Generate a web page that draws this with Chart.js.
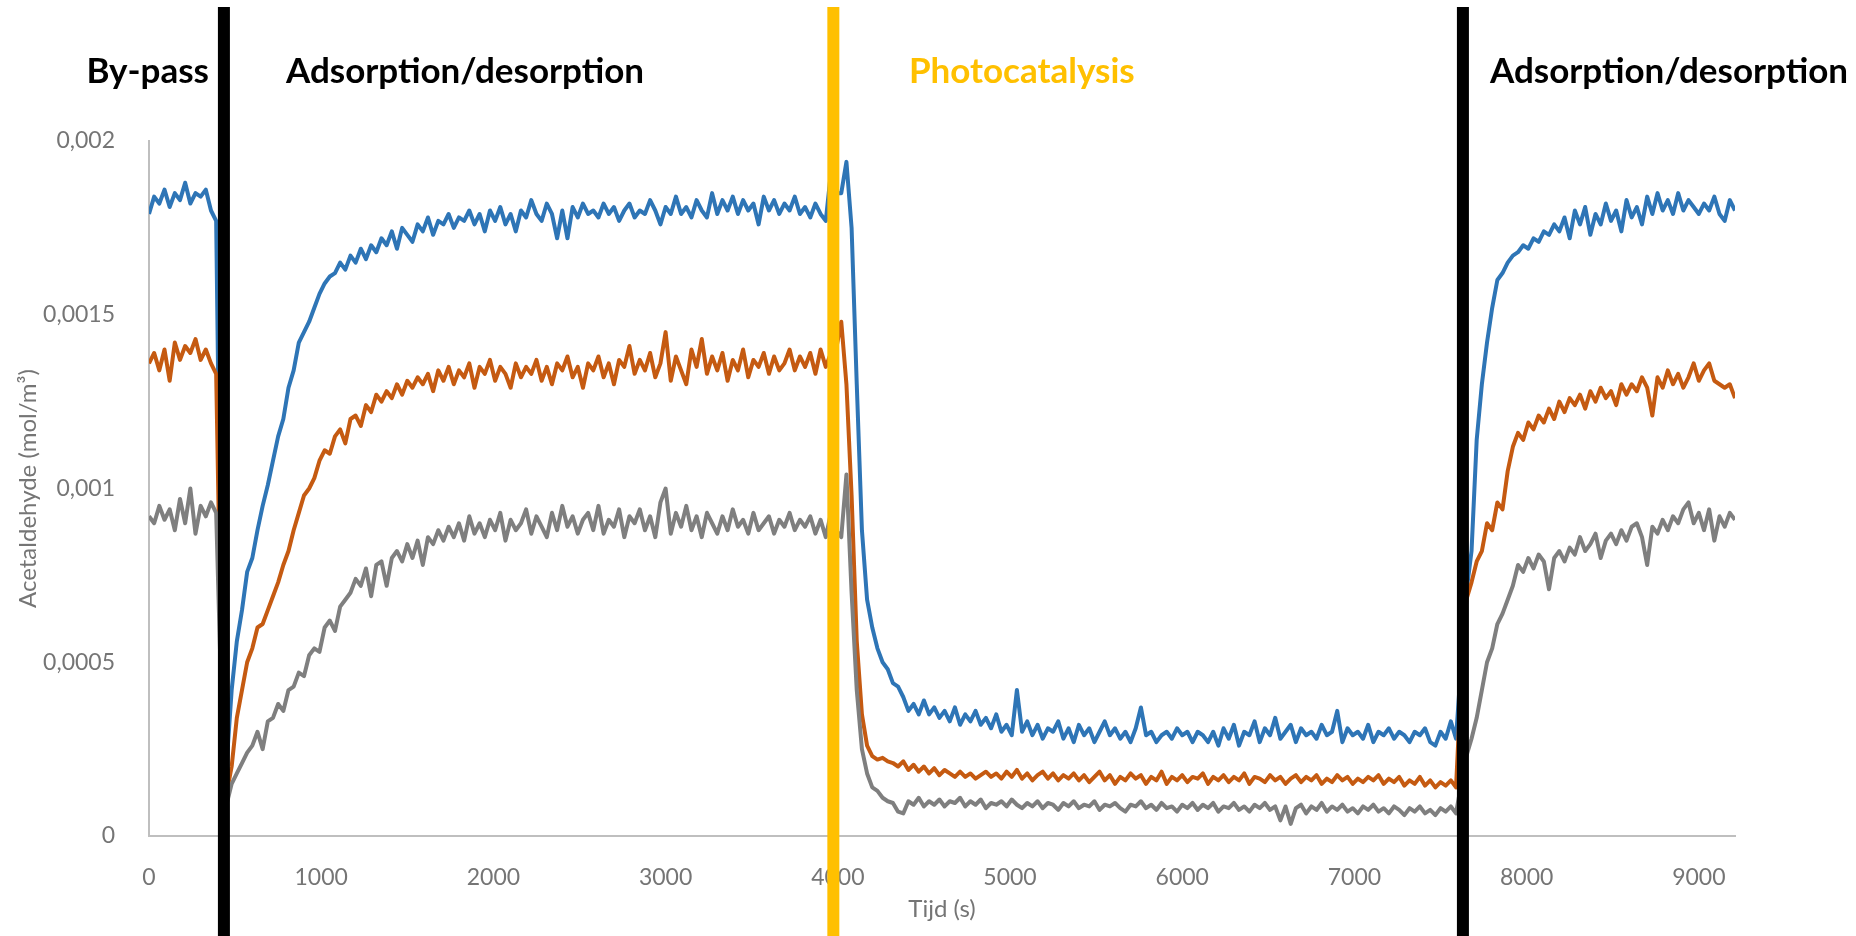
<!DOCTYPE html>
<html>
<head>
<meta charset="utf-8">
<title>Acetaldehyde</title>
<script src="https://cdn.jsdelivr.net/npm/chart.js@4.4.1/dist/chart.umd.min.js"></script>
<style>
  html, body { margin: 0; padding: 0; background: #fff; }
  canvas { display: block; }
</style>
</head>
<body>
<canvas id="grafiek" width="1856" height="936"></canvas>
<script>
// tijd in s, waarden in µmol/m³ (wordt bij het tekenen omgezet naar mol/m³)
const tijd = [
  0, 30, 60, 90, 120, 150, 180, 210, 240, 270,
  300, 330, 360, 390, 420, 450, 480, 510, 540, 570,
  600, 630, 660, 690, 720, 750, 780, 810, 840, 870,
  900, 930, 960, 990, 1020, 1050, 1080, 1110, 1140, 1170,
  1200, 1230, 1260, 1290, 1320, 1350, 1380, 1410, 1440, 1470,
  1500, 1530, 1560, 1590, 1620, 1650, 1680, 1710, 1740, 1770,
  1800, 1830, 1860, 1890, 1920, 1950, 1980, 2010, 2040, 2070,
  2100, 2130, 2160, 2190, 2220, 2250, 2280, 2310, 2340, 2370,
  2400, 2430, 2460, 2490, 2520, 2550, 2580, 2610, 2640, 2670,
  2700, 2730, 2760, 2790, 2820, 2850, 2880, 2910, 2940, 2970,
  3000, 3030, 3060, 3090, 3120, 3150, 3180, 3210, 3240, 3270,
  3300, 3330, 3360, 3390, 3420, 3450, 3480, 3510, 3540, 3570,
  3600, 3630, 3660, 3690, 3720, 3750, 3780, 3810, 3840, 3870,
  3900, 3930, 3960, 3990, 4020, 4050, 4080, 4110, 4140, 4170,
  4200, 4230, 4260, 4290, 4320, 4350, 4380, 4410, 4440, 4470,
  4500, 4530, 4560, 4590, 4620, 4650, 4680, 4710, 4740, 4770,
  4800, 4830, 4860, 4890, 4920, 4950, 4980, 5010, 5040, 5070,
  5100, 5130, 5160, 5190, 5220, 5250, 5280, 5310, 5340, 5370,
  5400, 5430, 5460, 5490, 5520, 5550, 5580, 5610, 5640, 5670,
  5700, 5730, 5760, 5790, 5820, 5850, 5880, 5910, 5940, 5970,
  6000, 6030, 6060, 6090, 6120, 6150, 6180, 6210, 6240, 6270,
  6300, 6330, 6360, 6390, 6420, 6450, 6480, 6510, 6540, 6570,
  6600, 6630, 6660, 6690, 6720, 6750, 6780, 6810, 6840, 6870,
  6900, 6930, 6960, 6990, 7020, 7050, 7080, 7110, 7140, 7170,
  7200, 7230, 7260, 7290, 7320, 7350, 7380, 7410, 7440, 7470,
  7500, 7530, 7560, 7590, 7620, 7650, 7680, 7710, 7740, 7770,
  7800, 7830, 7860, 7890, 7920, 7950, 7980, 8010, 8040, 8070,
  8100, 8130, 8160, 8190, 8220, 8250, 8280, 8310, 8340, 8370,
  8400, 8430, 8460, 8490, 8520, 8550, 8580, 8610, 8640, 8670,
  8700, 8730, 8760, 8790, 8820, 8850, 8880, 8910, 8940, 8970,
  9000, 9030, 9060, 9090, 9120, 9150, 9180, 9210
];

const blauw = [
  1790, 1840, 1820, 1860, 1810, 1850, 1830, 1880, 1820, 1850,
  1840, 1860, 1800, 1770, 600, 200, 420, 560, 650, 760,
  800, 880, 950, 1010, 1080, 1150, 1200, 1290, 1340, 1420,
  1450, 1480, 1520, 1560, 1590, 1610, 1620, 1650, 1630, 1670,
  1650, 1690, 1660, 1700, 1680, 1720, 1700, 1740, 1690, 1750,
  1730, 1710, 1760, 1740, 1780, 1730, 1770, 1760, 1790, 1750,
  1780, 1770, 1800, 1760, 1790, 1740, 1800, 1770, 1810, 1760,
  1790, 1740, 1800, 1780, 1830, 1790, 1770, 1820, 1790, 1720,
  1800, 1720, 1810, 1780, 1820, 1790, 1800, 1780, 1820, 1790,
  1810, 1770, 1800, 1820, 1780, 1800, 1790, 1830, 1800, 1760,
  1810, 1790, 1840, 1790, 1810, 1780, 1830, 1800, 1780, 1850,
  1790, 1830, 1800, 1840, 1790, 1830, 1800, 1820, 1760, 1840,
  1800, 1830, 1790, 1820, 1800, 1840, 1790, 1810, 1780, 1820,
  1790, 1770, 1910, 1850, 1850, 1940, 1750, 1300, 880, 680,
  600, 540, 500, 480, 440, 430, 400, 360, 380, 350,
  390, 350, 370, 340, 360, 330, 370, 320, 350, 330,
  360, 320, 340, 310, 350, 300, 320, 290, 420, 300,
  330, 290, 320, 280, 310, 300, 330, 280, 310, 270,
  320, 290, 310, 270, 300, 330, 290, 310, 280, 300,
  270, 310, 370, 290, 300, 270, 290, 300, 280, 310,
  290, 300, 270, 300, 290, 270, 300, 260, 310, 280,
  320, 260, 300, 290, 330, 270, 310, 290, 340, 280,
  300, 320, 270, 310, 290, 300, 280, 320, 290, 300,
  360, 270, 310, 290, 300, 280, 320, 270, 300, 290,
  310, 280, 300, 290, 270, 300, 290, 310, 270, 260,
  300, 280, 330, 280, 500, 700, 820, 1140, 1300, 1420,
  1520, 1600, 1620, 1650, 1670, 1680, 1700, 1690, 1720, 1710,
  1740, 1730, 1760, 1740, 1780, 1720, 1800, 1760, 1810, 1730,
  1790, 1760, 1820, 1770, 1800, 1740, 1830, 1780, 1810, 1760,
  1840, 1790, 1850, 1800, 1830, 1790, 1850, 1800, 1830, 1810,
  1790, 1820, 1800, 1840, 1790, 1770, 1830, 1800
];

const oranje = [
  1360, 1390, 1340, 1400, 1310, 1420, 1370, 1410, 1390, 1430,
  1370, 1400, 1360, 1330, 500, 120, 200, 340, 420, 500,
  540, 600, 610, 650, 690, 730, 780, 820, 880, 930,
  980, 1000, 1030, 1080, 1110, 1100, 1150, 1170, 1130, 1200,
  1210, 1180, 1240, 1220, 1270, 1250, 1280, 1260, 1300, 1270,
  1310, 1290, 1320, 1300, 1330, 1280, 1340, 1310, 1350, 1300,
  1340, 1320, 1360, 1290, 1350, 1330, 1370, 1310, 1350, 1330,
  1290, 1360, 1320, 1350, 1330, 1370, 1310, 1350, 1300, 1360,
  1340, 1380, 1320, 1350, 1290, 1360, 1340, 1380, 1320, 1360,
  1300, 1370, 1350, 1410, 1330, 1370, 1340, 1390, 1320, 1360,
  1450, 1310, 1380, 1340, 1300, 1400, 1350, 1430, 1330, 1380,
  1340, 1390, 1310, 1370, 1340, 1400, 1320, 1370, 1350, 1390,
  1330, 1380, 1340, 1360, 1400, 1340, 1380, 1350, 1390, 1330,
  1400, 1350, 1390, 1400, 1480, 1300, 980, 560, 350, 260,
  230, 220, 225, 215, 210, 200, 215, 190, 205, 185,
  200, 180, 195, 175, 190, 180, 170, 185, 170, 180,
  165, 175, 185, 170, 180, 165, 185, 170, 190, 165,
  180, 160, 175, 185, 165, 180, 160, 175, 165, 180,
  160, 175, 155, 170, 185, 160, 175, 150, 170, 160,
  180, 165, 175, 150, 170, 160, 185, 150, 170, 160,
  175, 155, 170, 165, 180, 150, 170, 160, 175, 155,
  170, 160, 180, 150, 170, 165, 155, 175, 160, 170,
  150, 165, 175, 155, 170, 160, 175, 150, 165, 155,
  175, 160, 170, 150, 165, 155, 170, 160, 175, 150,
  165, 155, 170, 145, 160, 150, 170, 145, 160, 140,
  155, 145, 160, 140, 450, 680, 730, 790, 820, 900,
  880, 960, 940, 1050, 1120, 1160, 1140, 1190, 1170, 1210,
  1190, 1230, 1200, 1250, 1220, 1260, 1240, 1270, 1230, 1280,
  1250, 1290, 1260, 1280, 1240, 1300, 1270, 1300, 1280, 1320,
  1290, 1210, 1320, 1290, 1340, 1300, 1330, 1290, 1320, 1360,
  1310, 1340, 1360, 1310, 1300, 1290, 1300, 1260
];

const grijs = [
  920, 900, 950, 910, 940, 880, 970, 900, 1000, 870,
  950, 920, 960, 930, 400, 90, 150, 180, 210, 240,
  260, 300, 250, 330, 340, 380, 360, 420, 430, 470,
  460, 520, 540, 530, 600, 620, 590, 660, 680, 700,
  740, 720, 770, 690, 780, 790, 720, 800, 820, 790,
  840, 800, 850, 780, 860, 840, 880, 850, 890, 860,
  900, 850, 920, 870, 900, 860, 910, 880, 930, 850,
  910, 880, 900, 940, 870, 920, 890, 860, 930, 880,
  950, 890, 920, 870, 910, 930, 880, 950, 870, 910,
  890, 940, 860, 920, 900, 940, 880, 920, 860, 960,
  1000, 870, 930, 890, 950, 880, 920, 860, 930, 900,
  870, 920, 880, 940, 890, 910, 870, 930, 880, 900,
  920, 870, 910, 890, 930, 880, 910, 890, 920, 870,
  910, 860, 930, 880, 860, 1040, 700, 420, 250, 180,
  140, 130, 110, 100, 95, 70, 65, 100, 90, 110,
  85, 100, 90, 105, 85, 100, 95, 110, 85, 100,
  90, 105, 80, 95, 90, 100, 85, 105, 90, 80,
  95, 85, 100, 80, 95, 90, 75, 95, 85, 100,
  80, 90, 85, 100, 75, 90, 85, 95, 80, 70,
  90, 85, 100, 80, 90, 75, 95, 80, 85, 70,
  90, 80, 95, 75, 90, 80, 95, 70, 85, 80,
  95, 75, 85, 70, 90, 80, 95, 75, 85, 45,
  85, 35, 80, 90, 65, 85, 75, 95, 70, 85,
  75, 90, 70, 80, 65, 85, 75, 90, 70, 80,
  65, 85, 75, 60, 80, 70, 85, 65, 75, 60,
  80, 70, 85, 65, 150, 230, 280, 340, 420, 500,
  540, 610, 640, 680, 720, 780, 760, 800, 770, 810,
  790, 710, 800, 820, 790, 830, 810, 860, 820, 840,
  870, 800, 850, 870, 840, 880, 850, 890, 900, 860,
  780, 890, 870, 910, 880, 920, 900, 940, 960, 900,
  930, 880, 940, 850, 920, 890, 930, 910
];

// y-as in mol/m³
const yTicks = [0, 0.0005, 0.001, 0.0015, 0.002];
const xTicks = [0, 1000, 2000, 3000, 4000, 5000, 6000, 7000, 8000, 9000];

// fasegrenzen (s) en fasenamen
const faseGrenzen = [435, 3974, 7630];
const faseNamen = ["By-pass", "Adsorption/desorption", "Photocatalysis", "Adsorption/desorption"];

if (blauw.length !== tijd.length || oranje.length !== tijd.length || grijs.length !== tijd.length) {
  console.error("lengtes kloppen niet", tijd.length, blauw.length, oranje.length, grijs.length);
}

function punten(reeks) {
  return tijd.map((t, i) => ({ x: t, y: reeks[i] / 1e6 }));
}

const grensKleuren = ["#000000", "#FFC000", "#000000"];
const naamKleuren = ["#000000", "#000000", "#FFC000", "#000000"];
// By-pass rechts uitgelijnd tegen de eerste lijn, de rest links uitgelijnd
const naamX = [209, 286, 909, 1490];
const naamUitlijning = ["right", "left", "left", "left"];

const faseLijnen = {
  id: "faseLijnen",
  afterDatasetsDraw(chart) {
    const { ctx, scales: { x } } = chart;
    ctx.save();
    faseGrenzen.forEach((t, i) => {
      const px = x.getPixelForValue(t);
      ctx.fillStyle = grensKleuren[i];
      ctx.fillRect(px - 6, 7, 12, chart.height - 7);
    });
    ctx.font = "bold 35px Lato";
    ctx.textBaseline = "alphabetic";
    faseNamen.forEach((naam, i) => {
      ctx.fillStyle = naamKleuren[i];
      ctx.textAlign = naamUitlijning[i];
      ctx.fillText(naam, naamX[i], 83);
    });
    ctx.restore();
  }
};

Chart.defaults.font.family = "Lato";

new Chart(document.getElementById("grafiek"), {
  type: "line",
  data: {
    datasets: [
      { label: "blauw", data: punten(blauw), borderColor: "#2E75B6", order: 2 },
      { label: "oranje", data: punten(oranje), borderColor: "#C55A11", order: 1 },
      { label: "grijs", data: punten(grijs), borderColor: "#7F7F7F", order: 0 }
    ]
  },
  options: {
    responsive: false,
    animation: false,
    layout: { padding: { left: 0, top: 141, right: 121, bottom: 0 } },
    elements: {
      point: { radius: 0 },
      line: { borderWidth: 4, tension: 0, borderJoinStyle: "round" }
    },
    plugins: {
      legend: { display: false },
      tooltip: { enabled: false }
    },
    scales: {
      x: {
        type: "linear",
        min: 0,
        max: 9210,
        afterFit: s => { s.height = 100; },
        afterBuildTicks: s => { s.ticks = xTicks.map(v => ({ value: v })); },
        grid: { display: false },
        border: { display: true, color: "#BFBFBF", width: 2 },
        ticks: {
          color: "#757575",
          font: { size: 23 },
          padding: 20,
          maxRotation: 0,
          callback: v => String(v)
        },
        title: { display: true, text: "Tijd (s)", color: "#757575", font: { size: 24 }, padding: { top: 0, bottom: 12 } }
      },
      y: {
        min: 0,
        max: 0.002,
        afterFit: s => { s.width = 149; },
        afterBuildTicks: s => { s.ticks = yTicks.map(v => ({ value: v })); },
        grid: { display: false },
        border: { display: true, color: "#BFBFBF", width: 2 },
        ticks: {
          color: "#757575",
          font: { size: 23 },
          padding: 26,
          callback: v => String(v).replace(".", ",")
        },
        title: { display: true, text: "Acetaldehyde (mol/m³)", color: "#757575", font: { size: 24 }, padding: { top: 14, bottom: 0 } }
      }
    }
  },
  plugins: [faseLijnen]
});
</script>
</body>
</html>
